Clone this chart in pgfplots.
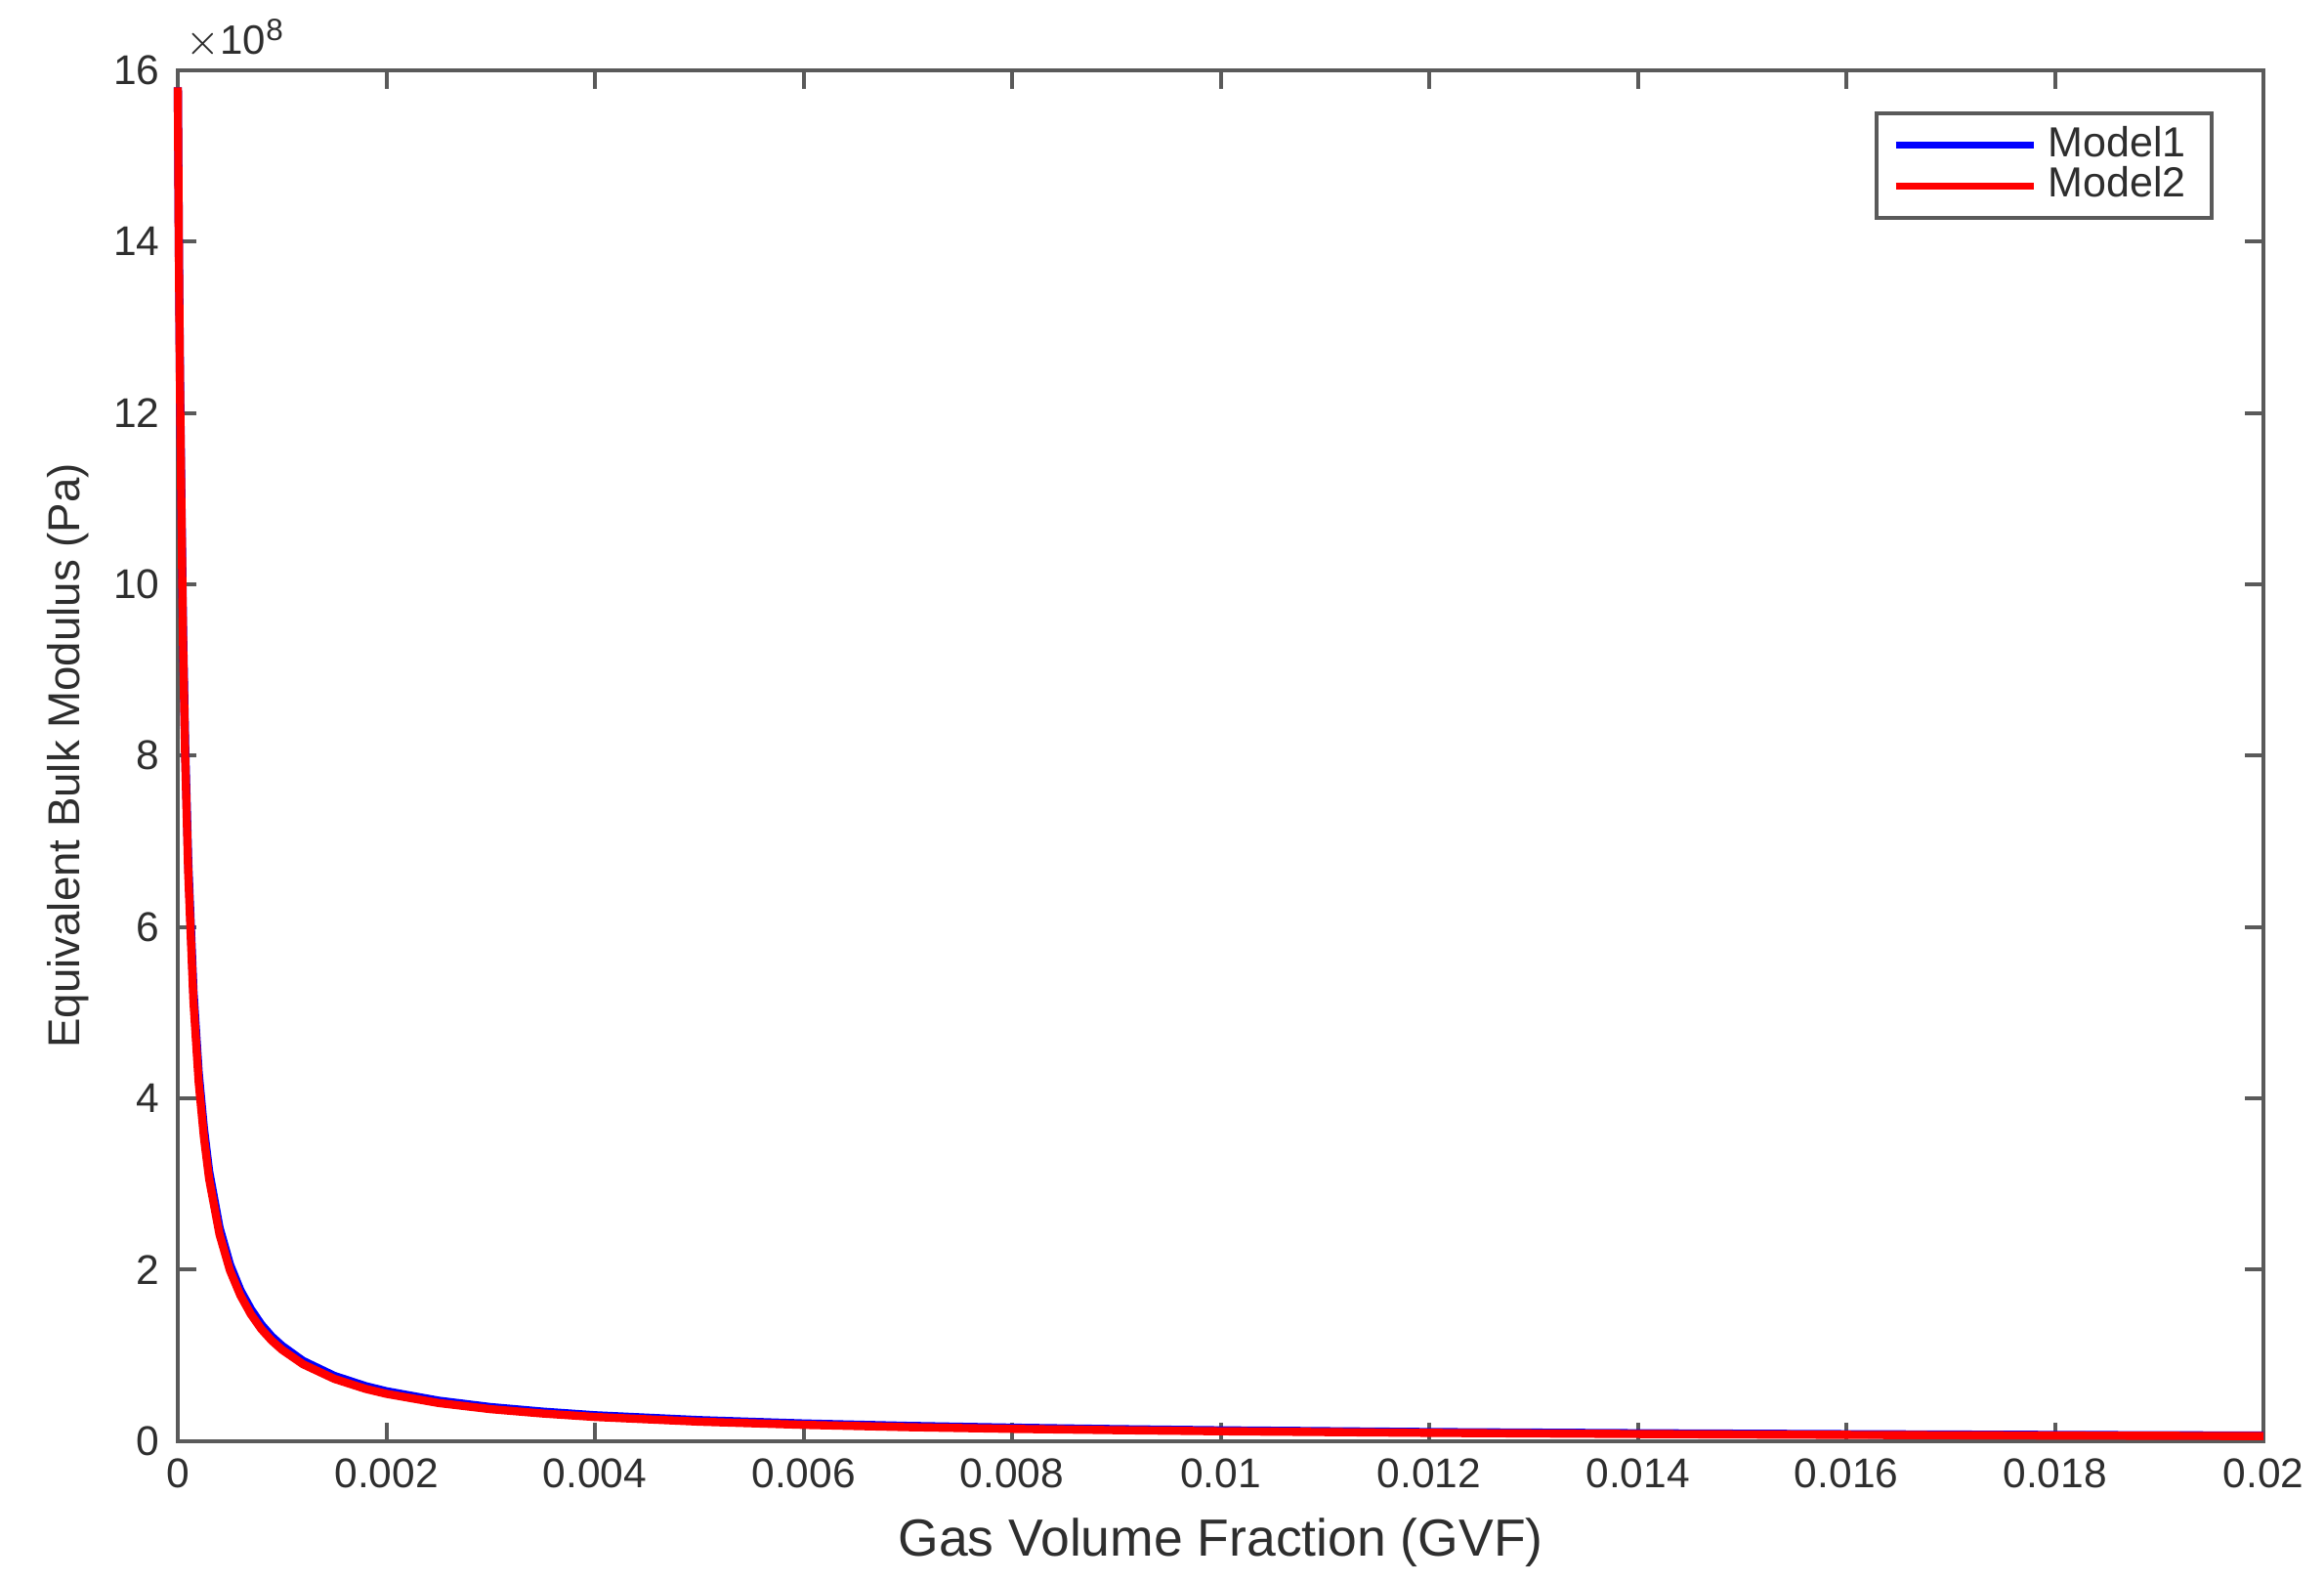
\documentclass[border=0pt]{standalone}
\usepackage{fontspec}
\setmainfont{Liberation Sans}
\usepackage{pgfplots}
\pgfplotsset{compat=1.18}

\definecolor{axgray}{HTML}{5A5A5A}
\definecolor{txtgray}{HTML}{2E2E2E}

% values in units of 1e8 Pa
\pgfplotstableread{
gvf       kmod
0         15.80
0.00001   13.90
0.00002   12.40
0.00003   11.30
0.00005   9.33
0.00007   8.00
0.0001    6.62
0.00015   5.13
0.0002    4.19
0.00025   3.55
0.0003    3.06
0.0004    2.41
0.0005    1.99
0.0006    1.70
0.0007    1.48
0.0008    1.307
0.0009    1.172
0.001     1.064
0.0012    0.896
0.0015    0.725
0.0018    0.608
0.002     0.550
0.0025    0.443
0.003     0.371
0.0035    0.320
0.004     0.280
0.005     0.225
0.006     0.188
0.007     0.161
0.008     0.141
0.009     0.126
0.010     0.113
0.012     0.0944
0.014     0.0810
0.016     0.0709
0.018     0.0631
0.020     0.0568
}\modeltwo

\pgfplotstableread{
gvf       kmod
0         15.80
0.00001   13.95
0.00002   12.50
0.00003   11.40
0.00005   9.45
0.00007   8.12
0.0001    6.75
0.00015   5.25
0.0002    4.30
0.00025   3.65
0.0003    3.15
0.0004    2.49
0.0005    2.06
0.0006    1.76
0.0007    1.54
0.0008    1.36
0.0009    1.22
0.001     1.11
0.0012    0.935
0.0015    0.760
0.0018    0.640
0.002     0.580
0.0025    0.470
0.003     0.395
0.0035    0.342
0.004     0.300
0.005     0.243
0.006     0.204
0.007     0.176
0.008     0.155
0.009     0.138
0.010     0.124
0.012     0.104
0.014     0.090
0.016     0.079
0.018     0.070
0.020     0.063
}\modelone

\begin{document}
\begin{tikzpicture}
\begin{axis}[
  width=407pt, height=267.4pt,
  scale only axis,
  xmin=0, xmax=0.02,
  ymin=0, ymax=16,
  xtick={0,0.002,0.004,0.006,0.008,0.01,0.012,0.014,0.016,0.018,0.02},
  xticklabels={0,0.002,0.004,0.006,0.008,0.01,0.012,0.014,0.016,0.018,0.02},
  ytick={0,2,4,6,8,10,12,14,16},
  scaled x ticks=false, scaled y ticks=false,
  tick align=inside,
  major tick length=3.6pt,
  axis line style={axgray, line width=0.75pt},
  every tick/.style={axgray, line width=0.75pt},
  tick label style={font=\fontsize{8.1}{10}\selectfont, text=txtgray},
  /pgf/number format/assume math mode=true,
  xlabel={Gas Volume Fraction (GVF)},
  ylabel={Equivalent Bulk Modulus (Pa)},
  xlabel style={font=\fontsize{10.2}{12}\selectfont, text=txtgray, yshift=1pt},
  ylabel style={font=\fontsize{8.7}{10}\selectfont, text=txtgray, yshift=-2pt},
  legend style={at={(rel axis cs:0.976,0.97)}, anchor=north east,
    draw=axgray, line width=0.8pt, font=\fontsize{8.2}{9}\selectfont,
    text=txtgray, inner xsep=3pt, inner ysep=0.5pt, row sep=-3.5pt},
  legend cell align=left,
  legend image code/.code={\draw[#1, line width=1.4pt] (0pt,0pt) -- (27pt,0pt);},
  clip=false,
]
\addplot[blue, line width=1.6pt] table[x=gvf, y=kmod] {\modelone};
\addlegendentry{Model1}
\addplot[red, line width=1.6pt] table[x=gvf, y=kmod] {\modeltwo};
\addlegendentry{Model2}
\node[anchor=south west, inner sep=0pt, text=txtgray, font=\fontsize{8}{9}\selectfont]
  at ([xshift=1.5pt,yshift=2pt]rel axis cs:0,1) {$\times$10\textsuperscript{8}};
\coordinate (bl) at (rel axis cs:0,0);
\coordinate (tr) at (rel axis cs:1,1);
\end{axis}
\pgfresetboundingbox
\path[use as bounding box] ([xshift=-34.7pt,yshift=-27.4pt]bl) rectangle ([xshift=11.8pt,yshift=13.7pt]tr);
\end{tikzpicture}
\end{document}
